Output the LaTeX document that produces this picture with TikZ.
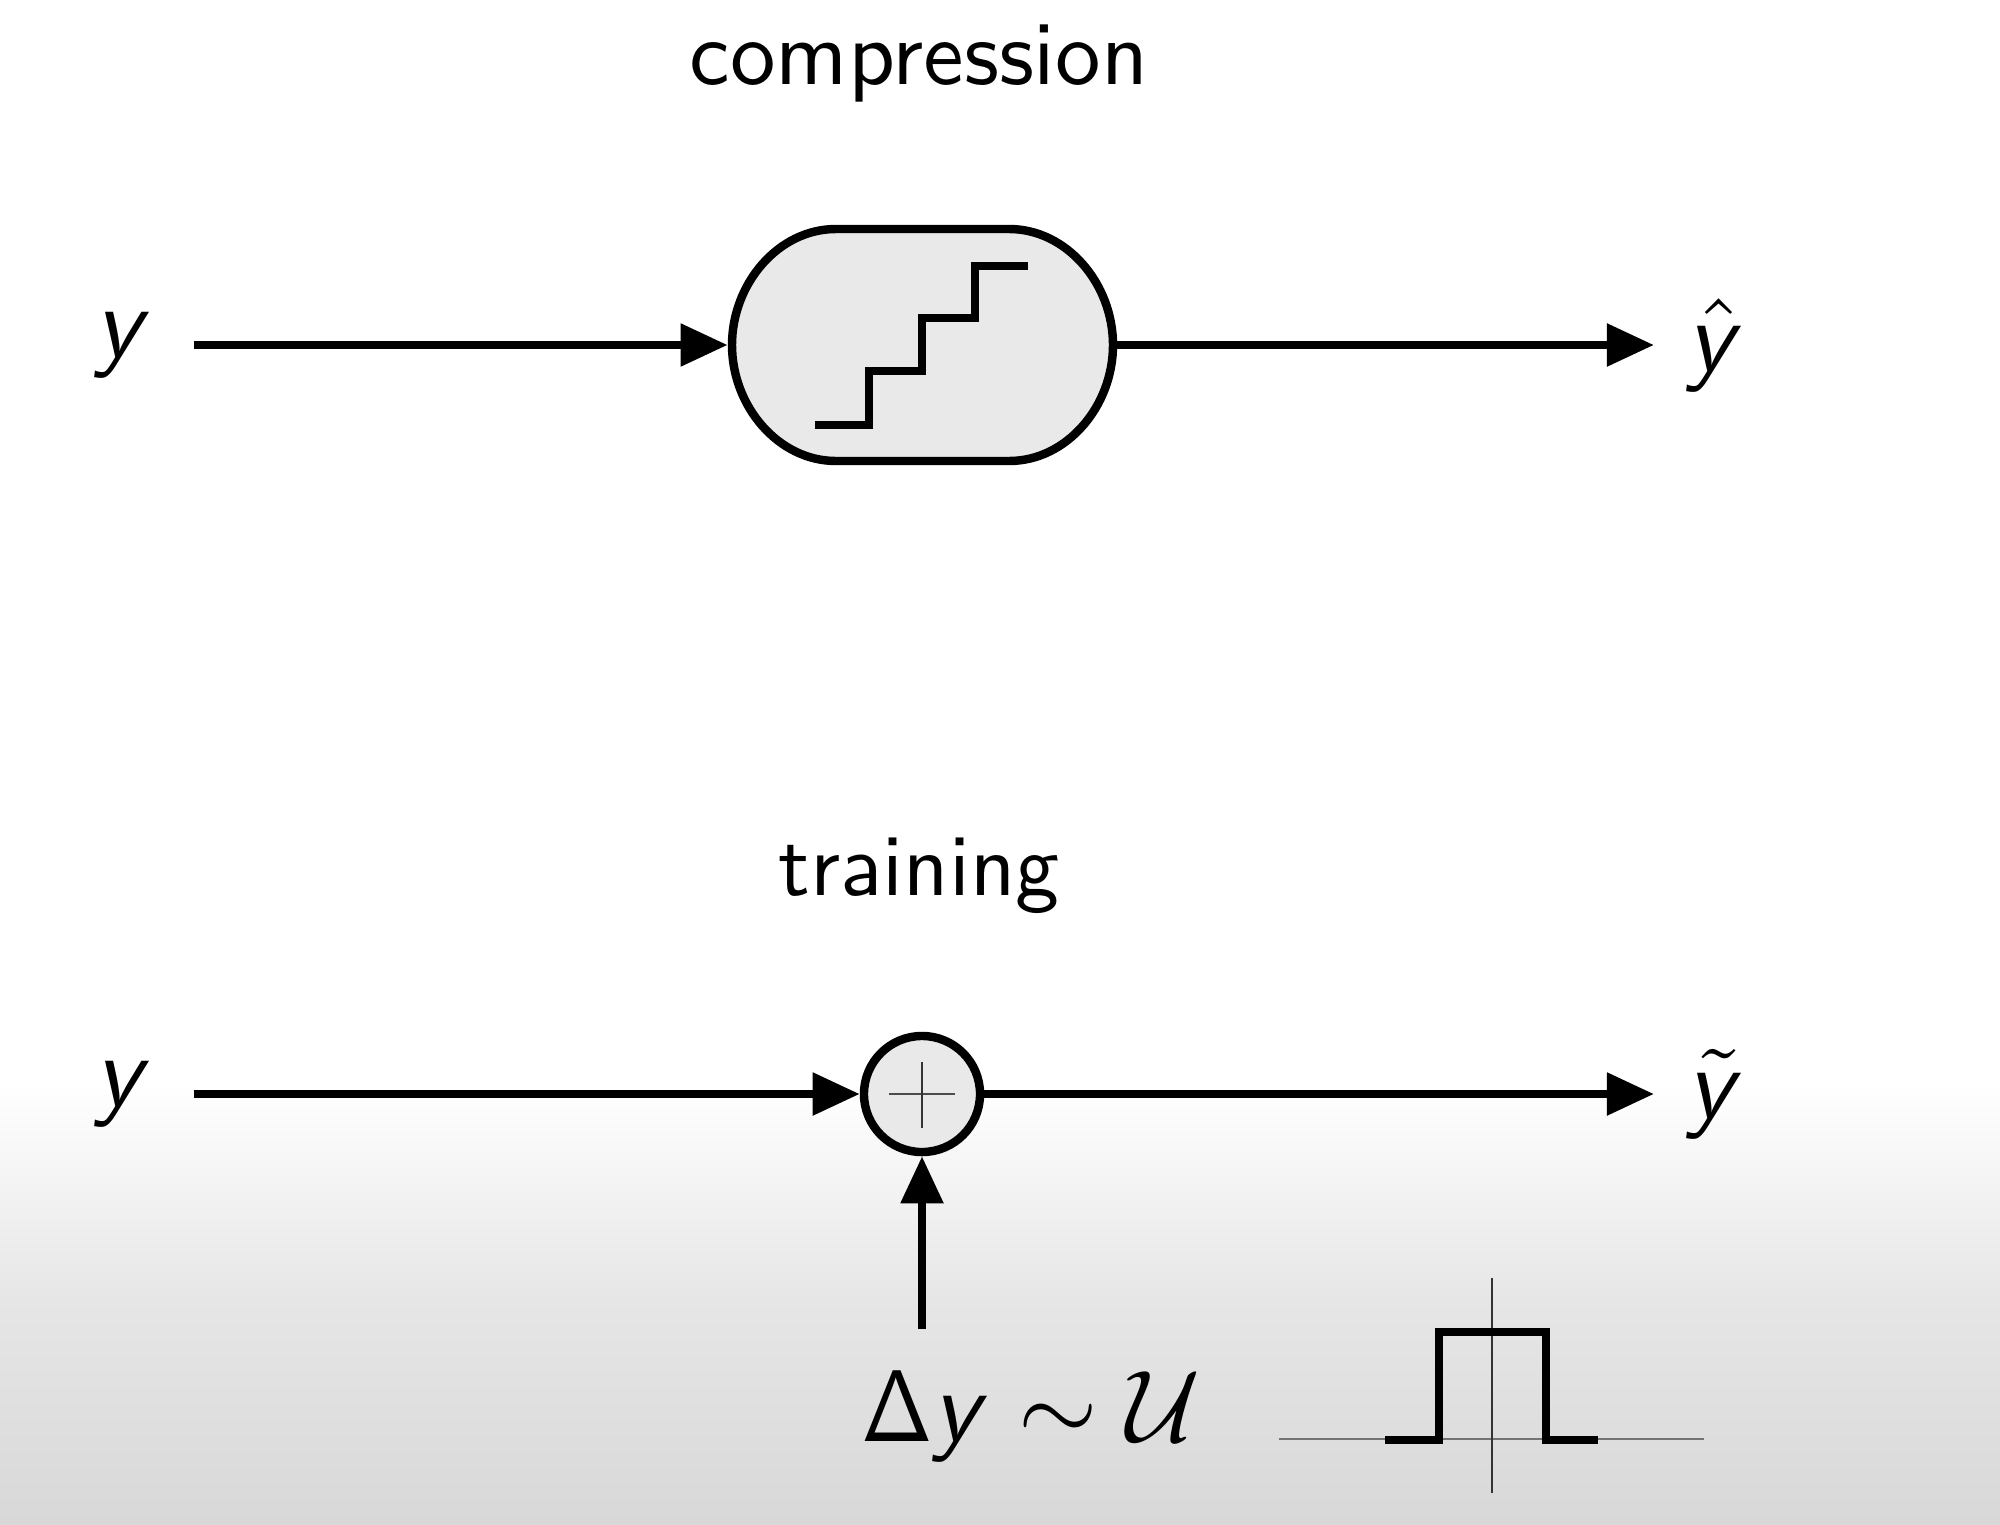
\documentclass[tikz,border=0pt]{standalone}
\usetikzlibrary{arrows.meta}
\DeclareMathAlphabet{\mathsfit}{OT1}{cmss}{m}{sl}
\definecolor{boxgray}{HTML}{E9E9E9}
\definecolor{midgray}{HTML}{E6E6E6}
\definecolor{bottomgray}{HTML}{D8D8D8}
\tikzset{
  heavy/.style={line width=2.4pt},
  flow/.style={heavy,-{Triangle[length=0.47cm,width=0.41cm]}},
  word/.style={inner sep=0pt,scale=2.59,font=\sffamily},
  symb/.style={inner sep=0pt,scale=2.9,font=\sffamily},
  thinaxis/.style={line width=0.8pt,black!55},
}
\begin{document}
\begin{tikzpicture}[x=0.01cm,y=-0.01cm]
\useasboundingbox (0,0) rectangle (2000,1524);
\shade[top color=white,bottom color=midgray] (0,1085) rectangle (2000,1300);
\shade[top color=midgray,bottom color=bottomgray] (0,1300) rectangle (2000,1524);

\node[word,anchor=base] (compress) at (919,84) {compression};
\node[word,anchor=base,scale=0.965] (train) at (919,895) {training};

\node[heavy,inner sep=0pt,minimum width=3.81cm,minimum height=2.32cm] (quant) at (922.5,345) {};
\draw[heavy,fill=boxgray] (732,345) .. controls (732,284) and (778,229) .. (836,229) -- (1009,229)
  .. controls (1067,229) and (1113,284) .. (1113,345)
  .. controls (1113,406) and (1067,461) .. (1009,461) -- (836,461)
  .. controls (778,461) and (732,406) .. (732,345) -- cycle;
\node[heavy,draw,fill=boxgray,circle,inner sep=0pt,minimum size=1.16cm] (adder) at (922,1094) {};

\node[symb] (yone) at (124,345) {$\mathsfit{y}$};
\node[symb] (yhat) at (1716,345) {$\skew{1}\hat{\mathsfit{y}}$};
\node[symb] (ytwo) at (124,1094) {$\mathsfit{y}$};
\node[symb] (ytilde) at (1716,1094) {$\skew{1}\tilde{\mathsfit{y}}$};
\node[symb,anchor=base west] (noise) at (859,1441) {$\scalebox{0.84}[1]{$\mathsf{\Delta}$}\mathsfit{y}\sim\mathcal{U}$};

\coordinate (startone) at (194,345);
\coordinate (endone) at (1654,345);
\coordinate (starttwo) at (194,1094);
\coordinate (endtwo) at (1654,1094);
\coordinate (startnoise) at (922,1329);

\draw[flow] (startone) -- (quant);
\draw[flow] (quant) -- (endone);
\draw[flow] (starttwo) -- (adder);
\draw[flow] (adder) -- (endtwo);
\draw[flow] (startnoise) -- (adder);

% stairs
\draw[heavy] (815,425) -- (869,425) -- (869,371) -- (922,371) -- (922,318) -- (975,318) -- (975,266) -- (1028,266);

% plus
\draw[line width=0.8pt,black!70] (889,1094) -- (955,1094);
\draw[line width=0.6pt,black!80] (922,1062) -- (922,1128);

% pulse
\draw[thinaxis] (1279,1439) -- (1704,1439);
\draw[line width=0.6pt,black!80] (1492,1278) -- (1492,1493);
\draw[heavy] (1385,1440) -- (1439,1440) -- (1439,1332) -- (1546,1332) -- (1546,1440) -- (1598,1440);
\end{tikzpicture}
\end{document}
